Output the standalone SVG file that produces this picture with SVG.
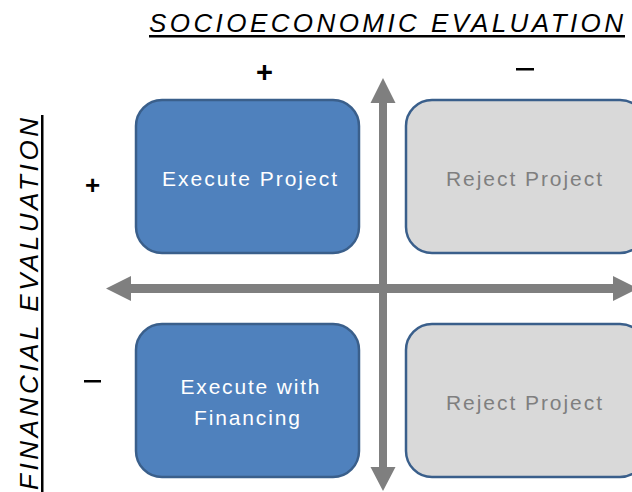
<svg xmlns="http://www.w3.org/2000/svg" width="632" height="492" viewBox="0 0 632 492">
<style>
.t{font-family:"Liberation Sans",Arial,sans-serif}
.title{font-size:26px;font-style:italic;fill:#000}
.sign{font-weight:bold;fill:#000;text-anchor:middle}
.blue rect{fill:#4F81BD;stroke:#3A5F8B;stroke-width:2.5}
.gray rect{fill:#D9D9D9;stroke:#3A5F8B;stroke-width:2.5}
.lbl{font-size:21px;text-anchor:middle}
.blue text{fill:#FFFFFF}
.gray text{fill:#7F7F7F}
.axis{fill:#7F7F7F}
</style>
<rect width="632" height="492" fill="#FFFFFF"/>
<g id="title-top">
<text class="t title" x="149" y="32" textLength="474" lengthAdjust="spacing">SOCIOECONOMIC EVALUATION</text>
<rect x="149" y="35" width="476" height="2.5" fill="#000"/>
</g>
<g id="title-left">
<text class="t title" transform="translate(38,490) rotate(-90)" x="0" y="0" textLength="372" lengthAdjust="spacing">FINANCIAL EVALUATION</text>
<rect x="41" y="115" width="2.5" height="377" fill="#000"/>
</g>
<g id="signs">
<text class="t sign" x="264.5" y="82" font-size="29">+</text>
<rect x="516" y="68" width="18" height="2.5" fill="#000"/>
<text class="t sign" x="92.5" y="194" font-size="26">+</text>
<rect x="84" y="380" width="17" height="2.5" fill="#000"/>
</g>
<g id="connectors">
<polygon class="axis" points="383,78 395.5,103 387,103 387,467 395.5,467 383,491 370.5,467 379,467 379,103 370.5,103"/>
<polygon class="axis" points="106,288.5 131,276 131,284 613,284 613,276 638,288.5 613,301 613,293 131,293 131,301"/>
</g>
<g id="execute-project" class="blue">
<rect x="136" y="100" width="223" height="153" rx="26" ry="26"/>
<text class="t lbl" x="249.5" y="186" textLength="175" lengthAdjust="spacing">Execute Project</text>
</g>
<g id="reject-project-top" class="gray">
<rect x="406" y="100" width="240" height="153" rx="26" ry="26"/>
<text class="t lbl" x="524" y="186" textLength="156" lengthAdjust="spacing">Reject Project</text>
</g>
<g id="execute-with-financing" class="blue">
<rect x="136" y="324" width="223" height="153" rx="26" ry="26"/>
<text class="t lbl" x="250" y="394" textLength="139" lengthAdjust="spacing">Execute with</text>
<text class="t lbl" x="247" y="425" textLength="106" lengthAdjust="spacing">Financing</text>
</g>
<g id="reject-project-bottom" class="gray">
<rect x="406" y="324" width="240" height="153" rx="26" ry="26"/>
<text class="t lbl" x="524" y="410" textLength="156" lengthAdjust="spacing">Reject Project</text>
</g>
</svg>
